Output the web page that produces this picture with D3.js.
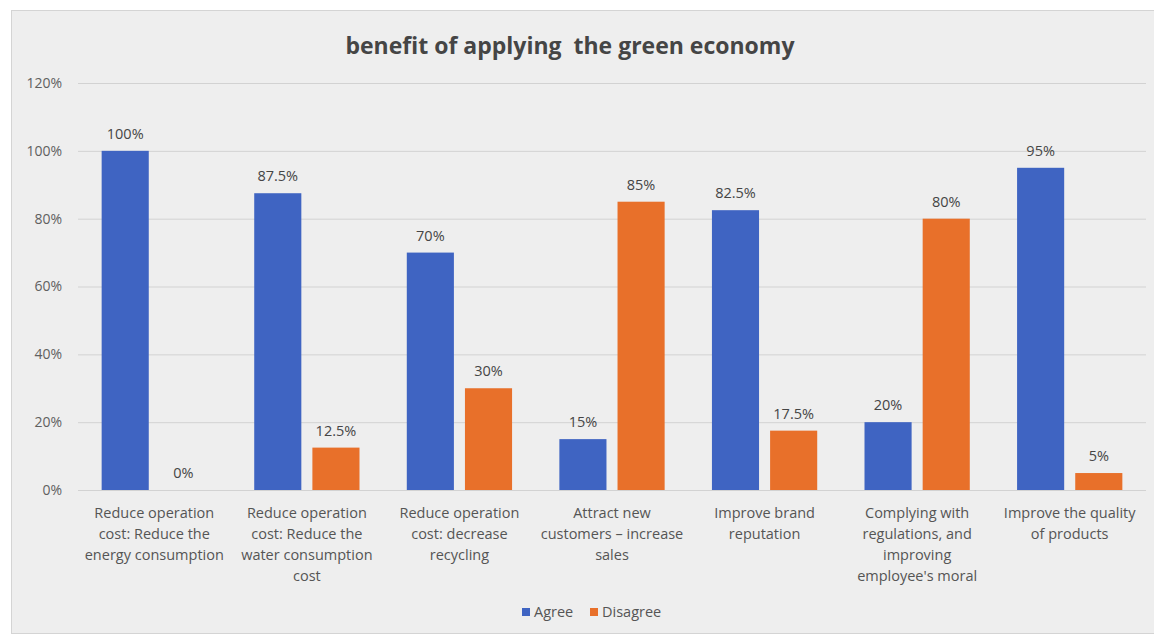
<!DOCTYPE html>
<html>
<head>
<meta charset="utf-8">
<script src="https://cdn.jsdelivr.net/npm/d3@7"></script>
<style>
  html, body { margin: 0; padding: 0; background: #ffffff; }
  svg { display: block; }
</style>
</head>
<body>
<script>
const title = "benefit of applying  the green economy";
const categories = [
  ["Reduce operation", "cost: Reduce the", "energy consumption"],
  ["Reduce operation", "cost: Reduce the", "water consumption", "cost"],
  ["Reduce operation", "cost: decrease", "recycling"],
  ["Attract new", "customers – increase", "sales"],
  ["Improve brand", "reputation"],
  ["Complying with", "regulations, and", "improving", "employee's moral"],
  ["Improve the quality", "of products"]
];
const seriesNames = ["Agree", "Disagree"];
const agree = [100, 87.5, 70, 15, 82.5, 20, 95];
const disagree = [0, 12.5, 30, 85, 17.5, 80, 5];
const yTicks = [0, 20, 40, 60, 80, 100, 120];
const colors = ["#3f64c2", "#e8702a"];

const W = 1154, H = 636;
const svg = d3.select("body").append("svg").attr("width", W).attr("height", H);
const font = "'Open Sans', 'Liberation Sans', sans-serif";

// chart area background
svg.append("rect").attr("x", 11.5).attr("y", 10.5).attr("width", W).attr("height", 623)
  .attr("fill", "#eeeeee").attr("stroke", "#d4d4d4");

const plot = { left: 78, right: 1146, top: 83, bottom: 490 };
const y = d3.scaleLinear().domain([0, 120]).range([plot.bottom, plot.top]);
const idx = d3.range(categories.length);
const x0 = d3.scaleBand().domain(idx).range([plot.left, plot.right]).paddingInner(0.31).paddingOuter(0.155);
const x1 = d3.scaleBand().domain(seriesNames).range([0, x0.bandwidth()]).paddingInner(0.19);

// gridlines
const yAxis = d3.axisLeft(y).tickValues(yTicks).tickSize(-(plot.right - plot.left)).tickFormat(d => d + "%").tickPadding(16);
const ga = svg.append("g").attr("transform", `translate(${plot.left},0)`).call(yAxis);
ga.select(".domain").remove();
ga.selectAll(".tick line").attr("stroke", "#d2d2d2").attr("stroke-width", 1);
ga.selectAll(".tick text").attr("fill", "#606060").style("font-family", font).style("font-size", "14px");

// title
svg.append("text").attr("x", 570).attr("y", 54).attr("text-anchor", "middle")
  .style("font-family", font).style("font-weight", "bold").style("font-size", "23px")
  .style("white-space", "pre").attr("xml:space", "preserve")
  .attr("fill", "#454545").text(title);

// bars
const data = idx.map(i => ({ i, values: [{ k: "Agree", v: agree[i] }, { k: "Disagree", v: disagree[i] }] }));
const groups = svg.append("g").selectAll("g").data(data).join("g")
  .attr("transform", d => `translate(${x0(d.i)},0)`);
groups.selectAll("rect").data(d => d.values).join("rect")
  .attr("x", d => x1(d.k)).attr("width", x1.bandwidth())
  .attr("y", d => y(d.v)).attr("height", d => y(0) - y(d.v))
  .attr("fill", (d, j) => colors[j]);
groups.selectAll("text.lbl").data(d => d.values).join("text").attr("class", "lbl")
  .attr("x", d => x1(d.k) + x1.bandwidth() / 2).attr("y", d => y(d.v) - 12)
  .attr("text-anchor", "middle").style("font-family", font).style("font-size", "14.5px")
  .attr("fill", "#454545").text(d => d.v + "%");

// category labels
const cl = svg.append("g").selectAll("text").data(idx).join("text")
  .attr("x", i => x0(i) + x0.bandwidth() / 2).attr("y", 518)
  .attr("text-anchor", "middle").style("font-family", font).style("font-size", "14.5px")
  .attr("fill", "#555555");
cl.selectAll("tspan").data(i => categories[i]).join("tspan")
  .attr("x", function () { return d3.select(this.parentNode).attr("x"); })
  .attr("dy", (d, j) => j === 0 ? 0 : 21).text(d => d);

// legend
const leg = svg.append("g").attr("transform", "translate(522,612)");
const items = [{ n: "Agree", x: 0, c: colors[0] }, { n: "Disagree", x: 68, c: colors[1] }];
items.forEach(it => {
  leg.append("rect").attr("x", it.x).attr("y", -4).attr("width", 8).attr("height", 8).attr("fill", it.c);
  leg.append("text").attr("x", it.x + 12).attr("y", 5).style("font-family", font).style("font-size", "14.5px")
    .attr("fill", "#555555").text(it.n);
});
</script>
</body>
</html>
